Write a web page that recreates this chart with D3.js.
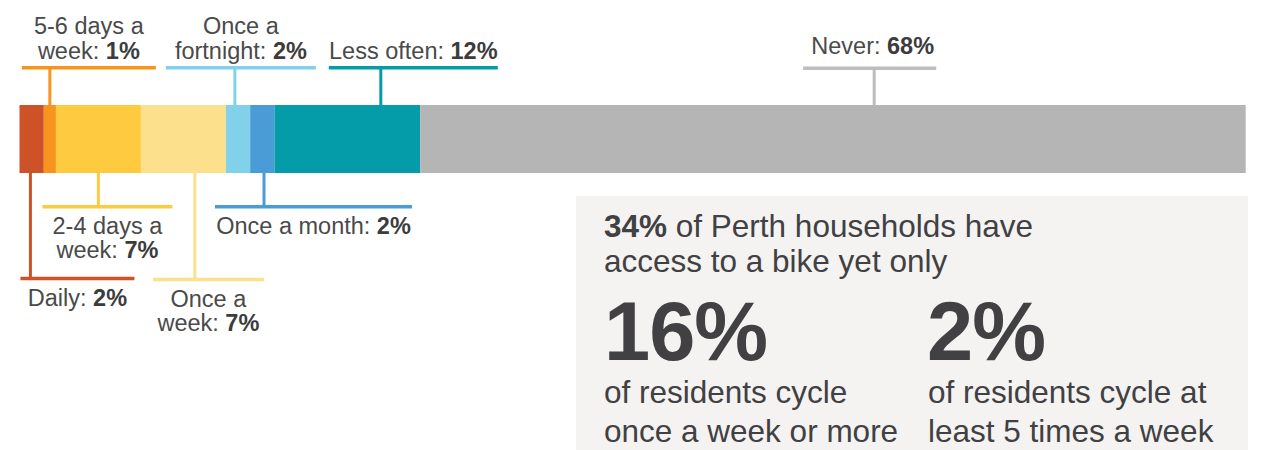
<!DOCTYPE html>
<html>
<head>
<meta charset="utf-8">
<script src="https://cdn.jsdelivr.net/npm/d3@7"></script>
<style>
body { margin: 0; background: #fff; }
text { font-family: "Liberation Sans", Arial, Helvetica, sans-serif; }
</style>
</head>
<body>
<svg id="chart"></svg>
<script>
// How often Perth residents cycle (percent of residents)
var categories = ["Daily", "5-6 days a week", "2-4 days a week", "Once a week", "Once a fortnight", "Once a month", "Less often", "Never"];
var values = [2, 1, 7, 7, 2, 2, 12, 68];
// label text, the value gets appended in bold to the last line
var labelLines = [
    ["Daily: "],
    ["5-6 days a", "week: "],
    ["2-4 days a", "week: "],
    ["Once a", "week: "],
    ["Once a", "fortnight: "],
    ["Once a month: "],
    ["Less often: "],
    ["Never: "]
];
var bikeAccess = "34%";
var accessText = [" of Perth households have", "access to a bike yet only"];
var bigShares = ["16%", "2%"];
var bigCaptions = [
    ["of residents cycle", "once a week or more"],
    ["of residents cycle at", "least 5 times a week"]
];

var colors = ["#cd5228", "#f7941e", "#fecb40", "#fde08c", "#82d1ea", "#4a9cd6", "#049ca9", "#b5b5b5"];
var lineColors = ["#cd5228", "#f7941e", "#fecb40", "#fde08c", "#82d1ea", "#4a9cd6", "#049ca9", "#bdbdbd"];

// where each callout sits: side of the bar, y of the bracket, tick position inside the segment,
// bracket extent left/right of the tick, small nudges for the text
var callouts = [
    { side: "bottom", y: 278.5, tick: 0.45, left: -10, right: 104, dx: 0, dy: 0 },
    { side: "top", y: 67.7, tick: 0.5, left: -28, right: 106, dx: 0, dy: 0 },
    { side: "bottom", y: 206.7, tick: 0.5, left: -56, right: 74, dx: 0, dy: 0 },
    { side: "bottom", y: 279.5, tick: 0.635, left: -42, right: 69, dx: 0, dy: 0 },
    { side: "top", y: 67.7, tick: 0.37, left: -69, right: 81, dx: 0, dy: 0 },
    { side: "bottom", y: 206.7, tick: 0.57, left: -49, right: 148, dx: 0, dy: 0 },
    { side: "top", y: 67.7, tick: 0.73, left: -52, right: 117, dx: 0, dy: 0 },
    { side: "top", y: 68.3, tick: 0.55, left: -71, right: 62, dx: 3, dy: -5.5 }
];

var width = 1265,
    height = 450,
    barTop = 105,
    barBottom = 173,
    lineHeight = 24.3;

var svg = d3.select("#chart")
    .attr("width", width)
    .attr("height", height);

var starts = [0];
for (var i = 0; i < values.length; i++) {
    starts.push(starts[i] + values[i]);
}

var x = d3.scaleLinear()
    .domain([0, d3.sum(values)])
    .range([19.5, 1245.7]);

var rows = categories.map(function(c, i) {
    return { name: c, value: values[i], start: starts[i], end: starts[i + 1], i: i };
});

//The stacked bar
svg.append("g").selectAll("rect")
    .data(rows)
    .enter()
    .append("rect")
    .attr("x", function(d) { return x(d.start); })
    .attr("y", barTop)
    .attr("width", function(d) { return x(d.end) - x(d.start); })
    .attr("height", barBottom - barTop)
    .style("fill", function(d) { return colors[d.i]; });

//Callouts
var callout = svg.append("g").selectAll(".callout")
    .data(rows)
    .enter()
    .append("g")
    .attr("class", "callout");

function tickX(d) {
    var c = callouts[d.i];
    return x(d.start) + (x(d.end) - x(d.start)) * c.tick;
}

callout.append("line")
    .attr("x1", tickX)
    .attr("x2", tickX)
    .attr("y1", function(d) { return callouts[d.i].y; })
    .attr("y2", function(d) { return callouts[d.i].side == "top" ? barTop : barBottom; })
    .style("stroke", function(d) { return lineColors[d.i]; })
    .style("stroke-width", 3);

callout.append("line")
    .attr("x1", function(d) { return tickX(d) + callouts[d.i].left; })
    .attr("x2", function(d) { return tickX(d) + callouts[d.i].right; })
    .attr("y1", function(d) { return callouts[d.i].y; })
    .attr("y2", function(d) { return callouts[d.i].y; })
    .style("stroke", function(d) { return lineColors[d.i]; })
    .style("stroke-width", 3.5);

callout.each(function(d) {
    var c = callouts[d.i],
        lines = labelLines[d.i],
        cx = tickX(d) + (c.left + c.right) / 2 + c.dx,
        firstBase;
    if (c.side == "top") {
        firstBase = c.y - 9.2 + c.dy - (lines.length - 1) * lineHeight;
    } else {
        firstBase = c.y + 27 + c.dy;
    }
    var t = d3.select(this).append("text")
        .attr("text-anchor", "middle")
        .style("font-size", "23.5px")
        .style("fill", "#4a4a4a");
    lines.forEach(function(l, j) {
        t.append("tspan")
            .attr("x", cx)
            .attr("y", firstBase + j * lineHeight)
            .text(l);
        if (j == lines.length - 1) {
            t.append("tspan")
                .style("font-weight", "bold")
                .style("fill", "#3c3c3c")
                .text(d.value + "%");
        }
    });
});

//Summary panel
var panel = svg.append("g");
panel.append("rect")
    .attr("x", 576)
    .attr("y", 196)
    .attr("width", 672)
    .attr("height", 260)
    .style("fill", "#f4f3f2");

var intro = panel.append("text")
    .attr("x", 604)
    .attr("y", 236.5)
    .style("font-size", "31.5px")
    .style("fill", "#414042");
intro.append("tspan").style("font-weight", "bold").text(bikeAccess);
intro.append("tspan").text(accessText[0]);
intro.append("tspan").attr("x", 604).attr("y", 271.5).text(accessText[1]);

var colX = [604, 928],
    bigX = [604, 927];
bigShares.forEach(function(s, i) {
    panel.append("text")
        .attr("x", bigX[i])
        .attr("y", 360)
        .style("font-size", "83px")
        .style("font-weight", "bold")
        .style("letter-spacing", "-1px")
        .style("fill", "#414042")
        .text(s);
    bigCaptions[i].forEach(function(l, j) {
        panel.append("text")
            .attr("x", colX[i])
            .attr("y", 403.3 + j * 38.4)
            .style("font-size", "31.5px")
            .style("fill", "#414042")
            .text(l);
    });
});
</script>
</body>
</html>
